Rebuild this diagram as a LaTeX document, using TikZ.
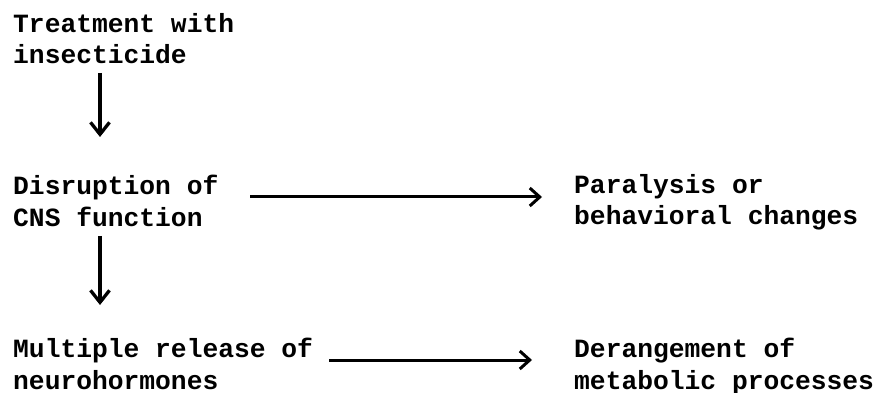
\documentclass[tikz,border=0pt]{standalone}
\usepackage{fontspec}
\setmonofont{Liberation Mono}
\usetikzlibrary{arrows.meta}
\tikzset{
  lbl/.style={anchor=base west, inner sep=0pt, align=left,
    font=\fontsize{26.3}{31.5}\selectfont\ttfamily\bfseries, text=black},
  varrow/.style={line width=3.3pt, -{Straight Barb[length=12pt,width=19pt,line width=3.3pt]}},
  harrow/.style={line width=3pt, -{Straight Barb[length=10pt,width=18pt,line width=3pt]}}
}
\begin{document}
\begin{tikzpicture}[x=1pt,y=1pt]
\useasboundingbox (0,0) rectangle (879,-393);
\node[lbl] (t) at (13,-64) {Treatment with\\insecticide};
\node[lbl] (d) at (13,-226) {Disruption of\\CNS function};
\node[lbl] (m) at (13,-389) {Multiple release of\\neurohormones};
\node[lbl] (p) at (574,-225) {Paralysis or\\behavioral changes};
\node[lbl] (g) at (574,-389) {Derangement of\\metabolic processes};
\draw[varrow] ([shift={(87pt,-9pt)}]t.base west) -- ([shift={(87pt,89pt)}]d.base west);
\draw[varrow] ([shift={(87pt,-10pt)}]d.base west) -- ([shift={(87pt,84pt)}]m.base west);
\draw[harrow] ([shift={(237pt,29pt)}]d.base west) -- ([shift={(-32pt,28pt)}]p.base west);
\draw[harrow] ([shift={(316pt,29pt)}]m.base west) -- ([shift={(-42pt,29pt)}]g.base west);
\end{tikzpicture}
\end{document}
